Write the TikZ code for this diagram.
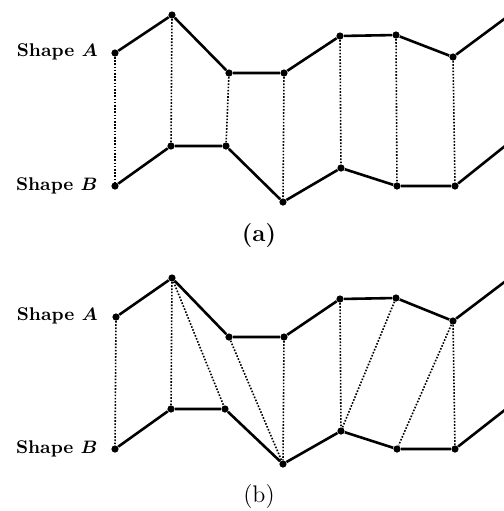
\documentclass[tikz,border=0pt]{standalone}
\usepackage{amsmath,bm}
\begin{document}
\begin{tikzpicture}[x=0.5pt,y=-0.5pt,
  pt/.style={circle,fill=black,inner sep=0pt,minimum size=3.6pt},
  edge/.style={line width=1.3pt,line join=round},
  corr/.style={line width=0.8pt,dash pattern=on 0.8pt off 0.8pt},
  lbl/.style={anchor=base east,font=\fontsize{9.2}{11}\selectfont\bfseries\boldmath,inner sep=0pt}]
\useasboundingbox (0,0) rectangle (504,511);
\clip (0,0) rectangle (504,511);
% ---------- panel (a)
\node[pt] (a1) at (115,53) {};
\node[pt] (a2) at (172,15) {};
\node[pt] (a3) at (229,73) {};
\node[pt] (a4) at (284,73) {};
\node[pt] (a5) at (340,36) {};
\node[pt] (a6) at (396,35) {};
\node[pt] (a7) at (453,57) {};
\coordinate (a8) at (515,11);
\node[pt] (b1) at (115,186) {};
\node[pt] (b2) at (171,146) {};
\node[pt] (b3) at (226,146) {};
\node[pt] (b4) at (283,202) {};
\node[pt] (b5) at (341,168) {};
\node[pt] (b6) at (397,186) {};
\node[pt] (b7) at (455,186) {};
\coordinate (b8) at (515,138);
\draw[edge] (a1)--(a2)--(a3)--(a4)--(a5)--(a6)--(a7)--(a8);
\draw[edge] (b1)--(b2)--(b3)--(b4)--(b5)--(b6)--(b7)--(b8);
\foreach \i in {1,...,7} \draw[corr] (a\i)--(b\i);
\node[lbl] (la) at (98,56) {Shape $A$};
\node[lbl] (lb) at (98,190) {Shape $B$};
\node[font=\large\bfseries] (capa) at (259,236) {(a)};
% ---------- panel (b)
\node[pt] (c1) at (116,317) {};
\node[pt] (c2) at (172,278) {};
\node[pt] (c3) at (229,337) {};
\node[pt] (c4) at (284,337) {};
\node[pt] (c5) at (340,299) {};
\node[pt] (c6) at (396,298) {};
\node[pt] (c7) at (453,321) {};
\coordinate (c8) at (515,274);
\node[pt] (d1) at (115,449) {};
\node[pt] (d2) at (171,409) {};
\node[pt] (d3) at (225,409) {};
\node[pt] (d4) at (283,464) {};
\node[pt] (d5) at (341,431) {};
\node[pt] (d6) at (397,449) {};
\node[pt] (d7) at (455,449) {};
\coordinate (d8) at (515,402);
\draw[edge] (c1)--(c2)--(c3)--(c4)--(c5)--(c6)--(c7)--(c8);
\draw[edge] (d1)--(d2)--(d3)--(d4)--(d5)--(d6)--(d7)--(d8);
\draw[corr] (c1)--(d1);
\draw[corr] (c2)--(d2);
\draw[corr] (c2)--(d3);
\draw[corr] (c3)--(d4);
\draw[corr] (c4)--(d4);
\draw[corr] (c5)--(d5);
\draw[corr] (c6)--(d5);
\draw[corr] (c7)--(d6);
\draw[corr] (c7)--(d7);
\node[lbl] (lc) at (98,320) {Shape $A$};
\node[lbl] (ld) at (98,453) {Shape $B$};
\node[font=\large] (capb) at (259,497) {(b)};
\end{tikzpicture}
\end{document}
